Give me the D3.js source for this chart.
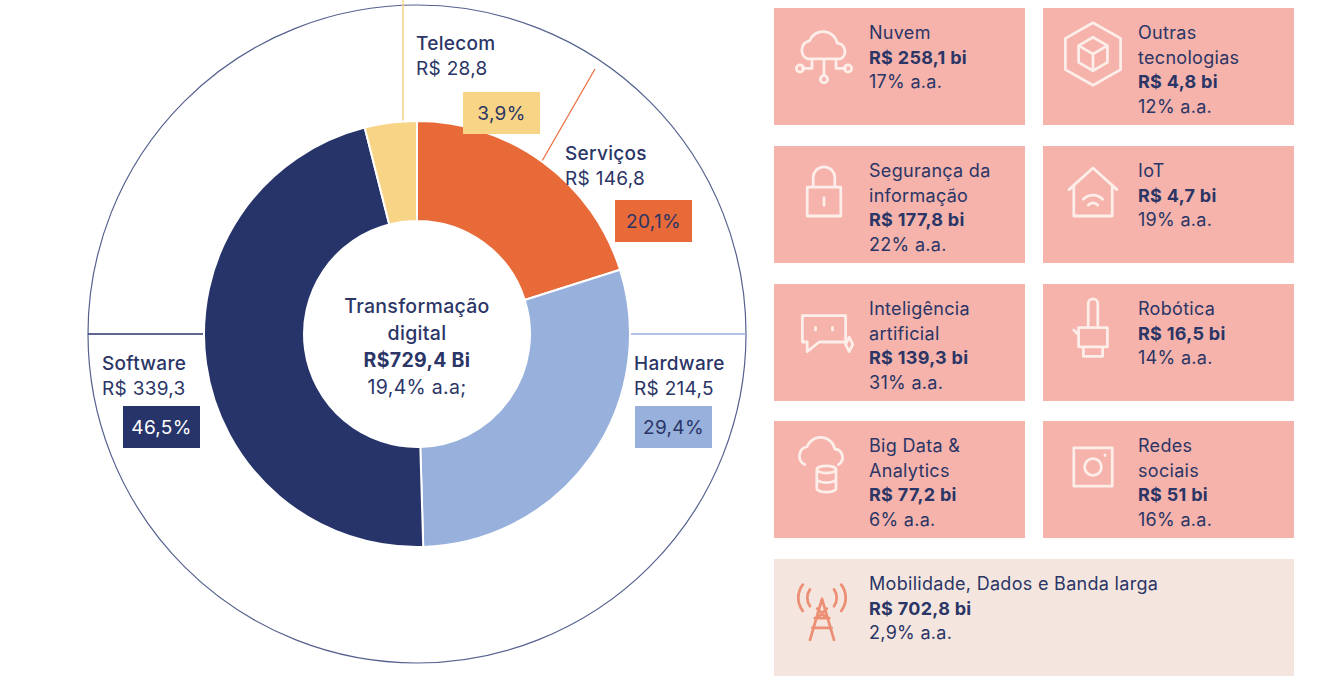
<!DOCTYPE html>
<html><head><meta charset="utf-8">
<script src="https://cdn.jsdelivr.net/npm/d3@7"></script>
<style>
body{margin:0;background:#fff;font-family:Inter,"Noto Sans",sans-serif;}
text{fill:#2b3566;letter-spacing:0.3px;}
</style></head>
<body><svg id="chart" width="1337" height="687"></svg>
<script>
// donut data
const segments = ['Serviços', 'Hardware', 'Software', 'Telecom'];
const values = [146.8, 214.5, 339.3, 28.8];
const pctLabels = ['20,1%', '29,4%', '46,5%', '3,9%'];
const valueLabels = ['R$ 146,8', 'R$ 214,5', 'R$ 339,3', 'R$ 28,8'];
const colors = ['#e86a38', '#97b0dc', '#27346a', '#f7d486'];
const centerLines = ['Transformação', 'digital', 'R$729,4 Bi', '19,4% a.a;'];

// card data
const cardTitles = [['Nuvem'], ['Outras', 'tecnologias'], ['Segurança da', 'informação'], ['IoT'],
  ['Inteligência', 'artificial'], ['Robótica'], ['Big Data &', 'Analytics'], ['Redes', 'sociais'],
  ['Mobilidade, Dados e Banda larga']];
const cardValues = ['R$ 258,1 bi', 'R$ 4,8 bi', 'R$ 177,8 bi', 'R$ 4,7 bi', 'R$ 139,3 bi', 'R$ 16,5 bi', 'R$ 77,2 bi', 'R$ 51 bi', 'R$ 702,8 bi'];
const cardGrowth = ['17% a.a.', '12% a.a.', '22% a.a.', '19% a.a.', '31% a.a.', '14% a.a.', '6% a.a.', '16% a.a.', '2,9% a.a.'];

const svg = d3.select('#chart');
const cx = 417, cy = 334;

// outer thin circle
svg.append('circle').attr('cx', cx).attr('cy', cy).attr('r', 329)
  .attr('fill', 'none').attr('stroke', '#55618f').attr('stroke-width', 1.2);

// leader lines
svg.append('line').attr('x1', 403).attr('y1', 0).attr('x2', 403).attr('y2', 130).attr('stroke', '#f7d486').attr('stroke-width', 1.5);
svg.append('line').attr('x1', 595).attr('y1', 69).attr('x2', 538).attr('y2', 168).attr('stroke', '#e86a38').attr('stroke-width', 1.2);
svg.append('line').attr('x1', 88).attr('y1', cy).attr('x2', 210).attr('y2', cy).attr('stroke', '#27346a').attr('stroke-width', 1.5);
svg.append('line').attr('x1', 624).attr('y1', cy).attr('x2', 746).attr('y2', cy).attr('stroke', '#97b0dc').attr('stroke-width', 1.5);

const pie = d3.pie().sort(null).value(d => d)(values);
const arc = d3.arc().innerRadius(113).outerRadius(213);
svg.append('g').attr('transform', `translate(${cx},${cy})`)
  .selectAll('path').data(pie).enter().append('path')
  .attr('d', arc).attr('fill', (d, i) => colors[i])
  .attr('stroke', '#fff').attr('stroke-width', 2);

// center text
const ct = svg.append('g').attr('text-anchor', 'middle').attr('font-size', 19.5);
centerLines.forEach((t, i) => {
  ct.append('text').attr('x', cx).attr('y', 313 + i * 27).text(t)
    .attr('font-weight', i === 2 ? 700 : (i < 2 ? 500 : 400));
});

// segment labels
const labelPos = [
  { x: 565, y: 160, bx: 615, by: 200, bw: 77 },
  { x: 634, y: 370, bx: 635, by: 406, bw: 77 },
  { x: 102, y: 370, bx: 123, by: 406, bw: 77 },
  { x: 416, y: 50, bx: 463, by: 92, bw: 77 }
];
segments.forEach((s, i) => {
  const p = labelPos[i];
  svg.append('text').attr('x', p.x).attr('y', p.y).attr('font-size', 19).attr('font-weight', 500).text(s);
  svg.append('text').attr('x', p.x).attr('y', p.y + 25).attr('font-size', 19).text(valueLabels[i]);
  svg.append('rect').attr('x', p.bx).attr('y', p.by).attr('width', p.bw).attr('height', 42).attr('fill', colors[i]);
  svg.append('text').attr('x', p.bx + p.bw / 2).attr('y', p.by + 28).attr('text-anchor', 'middle')
    .attr('font-size', 19).text(pctLabels[i]).style('fill', i === 2 ? '#fff' : '#2b3566');
});

// cards
const icons = [
  'M-14,4 a8,8 0 0 1 2,-15 a12,12 0 0 1 23,2 a7,7 0 0 1 3,13 Z M-10,4 v8 h-8 M0,4 v14 M10,4 v8 h8 M-20,12 m-3,0 a3,3 0 1 0 6,0 a3,3 0 1 0 -6,0 M0,21 m-3,0 a3,3 0 1 0 6,0 a3,3 0 1 0 -6,0 M20,12 m-3,0 a3,3 0 1 0 6,0 a3,3 0 1 0 -6,0',
  'M0,-26 L23,-13 L23,13 L0,26 L-23,13 L-23,-13 Z M0,-14 L12,-7 L12,7 L0,14 L-12,7 L-12,-7 Z M-12,-7 L0,0 L12,-7 M0,0 V14',
  'M-14,-4 h28 v24 h-28 Z M-9,-4 v-8 a9,9 0 0 1 18,0 v8 M0,5 v6',
  'M-20,-2 L0,-20 L20,-2 M-16,-6 v26 h32 v-26 M-8,6 a11,11 0 0 1 16,0 M-4,11 a5,5 0 0 1 8,0',
  'M-18,-12 h36 v22 h-22 l-10,8 v-8 h-4 Z M-7,-2 v2 M7,-2 v2 M18,12 l3,-6 l3,6 l-3,6 Z',
  'M-4,-22 v20 M-4,-22 a4,4 0 0 1 8,0 v18 M-12,-2 h24 v16 h-24 Z M-16,0 l4,4 M-8,14 v8 h16 v-8',
  'M-16,-2 a8,8 0 0 1 2,-15 a12,12 0 0 1 23,2 a7,7 0 0 1 3,13 M-6,2 a8,3 0 1 0 16,0 a8,3 0 1 0 -16,0 v16 a8,3 0 0 0 16,0 v-16 M-6,10 a8,3 0 0 0 16,0',
  'M-16,-16 h32 v32 h-32 Z M-7,0 a7,7 0 1 0 14,0 a7,7 0 1 0 -14,0 M10,-10 v0.5',
  'M0,-10 L-10,24 M0,-10 L10,24 M-6,6 h12 M-8,14 h16 M-4,-2 l8,8 M4,-2 l-8,8 M-10,-18 a12,12 0 0 0 0,14 M10,-18 a12,12 0 0 1 0,14 M-16,-22 a18,18 0 0 0 0,22 M16,-22 a18,18 0 0 1 0,22'
];
const cardPos = cardTitles.map((t, i) => i < 8
  ? { x: i % 2 ? 1043 : 774, y: [8, 146, 284, 421][Math.floor(i / 2)], w: 251, h: 117, fill: '#f5b3ab' }
  : { x: 774, y: 559, w: 520, h: 117, fill: '#f4e6de' });
cardPos.forEach((p, i) => {
  const g = svg.append('g').attr('transform', `translate(${p.x},${p.y})`);
  g.append('rect').attr('width', p.w).attr('height', p.h).attr('fill', p.fill);
  g.append('path').attr('d', icons[i]).attr('transform', `translate(${i === 8 ? 48 : 50},${i === 8 ? 52 : 46}) scale(1.2)`)
    .attr('fill', 'none').attr('stroke', i === 8 ? '#ec8f74' : '#fdeee9').attr('stroke-width', 2.3)
    .attr('stroke-linecap', 'round').attr('stroke-linejoin', 'round');
  const lines = cardTitles[i].map(t => ({ t, w: 400 }))
    .concat([{ t: cardValues[i], w: 700 }, { t: cardGrowth[i], w: 400 }]);
  lines.forEach((l, k) => {
    g.append('text').attr('x', 95).attr('y', 31 + k * 24.5).attr('font-size', 18)
      .attr('font-weight', l.w).text(l.t);
  });
});
</script></body></html>
